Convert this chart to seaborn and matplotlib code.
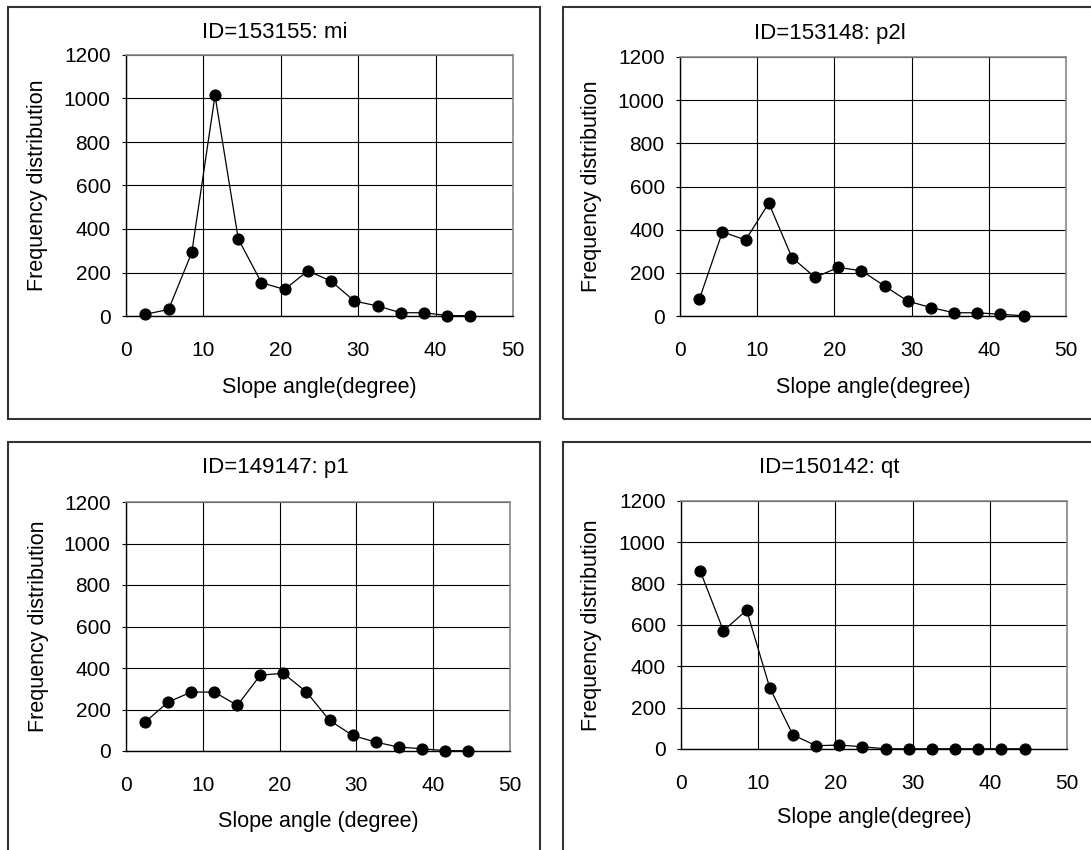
import matplotlib
matplotlib.use("Agg")
import matplotlib.pyplot as plt
from matplotlib.patches import Rectangle
import seaborn as sns
import pandas as pd

slope_angle = [2.5, 5.5, 8.5, 11.5, 14.5, 17.5, 20.5, 23.5, 26.5, 29.5, 32.5, 35.5, 38.5, 41.5, 44.5]

freq_mi = [8, 30, 292, 1014, 355, 153, 122, 208, 160, 69, 46, 15, 15, 2, 1]
freq_p2l = [77, 390, 352, 523, 271, 179, 225, 210, 139, 69, 39, 15, 15, 8, 1]
freq_p1 = [140, 236, 284, 284, 220, 366, 374, 284, 148, 75, 43, 19, 11, 2, 1]
freq_qt = [860, 572, 672, 296, 68, 16, 19, 11, 1, 1, 1, 1, 1, 1, 1]

titles = ["ID=153155: mi", "ID=153148: p2l", "ID=149147: p1", "ID=150142: qt"]
xlabels = ["Slope angle(degree)", "Slope angle(degree)", "Slope angle (degree)", "Slope angle(degree)"]
ylabel = "Frequency distribution"
xticks = [0, 10, 20, 30, 40, 50]
yticks = [0, 200, 400, 600, 800, 1000, 1200]

series = [freq_mi, freq_p2l, freq_p1, freq_qt]

sns.set_theme(style="white")
plt.rcParams["font.family"] = ["Liberation Sans", "DejaVu Sans"]

W, H = 1091, 850
fig = plt.figure(figsize=(W / 100, H / 100), dpi=100)

# axes pixel boxes: (left, right, top, bottom)
ax_px = [(126, 513, 55, 316), (680, 1066, 57, 316), (126, 510, 502, 751), (681, 1067, 501, 749)]
# panel border pixel boxes
panel_px = [(8, 540, 7, 419), (563, 1095, 7, 419), (8, 540, 442, 860), (563, 1095, 442, 860)]
# label centres (pixels)
ylab_x = [38, 592, 38, 592]
xlab_y = [387, 387, 822, 818]
title_y = [33, 33, 468, 468]
title_x = [275, 830, 275, 829]

for i in range(4):
    l, r, t, b = panel_px[i]
    fig.add_artist(Rectangle((l / W, 1 - b / H), (r - l) / W, (b - t) / H, transform=fig.transFigure,
                             fill=False, edgecolor="#333333", linewidth=1.5))
    l, r, t, b = ax_px[i]
    ax = fig.add_axes([l / W, 1 - b / H, (r - l) / W, (b - t) / H])
    df = pd.DataFrame({"x": slope_angle, "y": series[i]})
    sns.lineplot(data=df, x="x", y="y", ax=ax, color="black", linewidth=0.9,
                 marker="o", markersize=8, markeredgecolor="black", markerfacecolor="black", zorder=5,
                 clip_on=False)
    ax.set_xlim(0, 50)
    ax.set_ylim(0, 1200)
    ax.set_xticks(xticks)
    ax.set_yticks(yticks)
    ax.grid(True, color="black", linewidth=0.8)
    ax.set_axisbelow(True)
    for s in ["left", "bottom"]:
        ax.spines[s].set_color("black")
        ax.spines[s].set_linewidth(1.0)
    for s in ["top", "right"]:
        ax.spines[s].set_color("#888888")
        ax.spines[s].set_linewidth(1.2)
    ax.tick_params(axis="y", which="both", left=True, length=3, width=0.8, color="black",
                   labelsize=15, pad=8, labelcolor="black")
    ax.tick_params(axis="x", which="both", bottom=False, labelsize=15, pad=12, labelcolor="black")
    ax.set_xlabel(xlabels[i], fontsize=15.5, color="black")
    ax.set_ylabel(ylabel, fontsize=15.5, color="black")
    ax.yaxis.set_label_coords((ylab_x[i] - l) / (r - l), 0.5)
    ax.xaxis.set_label_coords(0.5, -(xlab_y[i] - b) / (b - t))
    ax.xaxis.label.set_va("center")
    ax.yaxis.label.set_va("center")
    fig.text(title_x[i] / W, 1 - title_y[i] / H, titles[i], ha="center", va="center", fontsize=16, color="black")

fig.savefig("out.png", dpi=100, facecolor="white")
